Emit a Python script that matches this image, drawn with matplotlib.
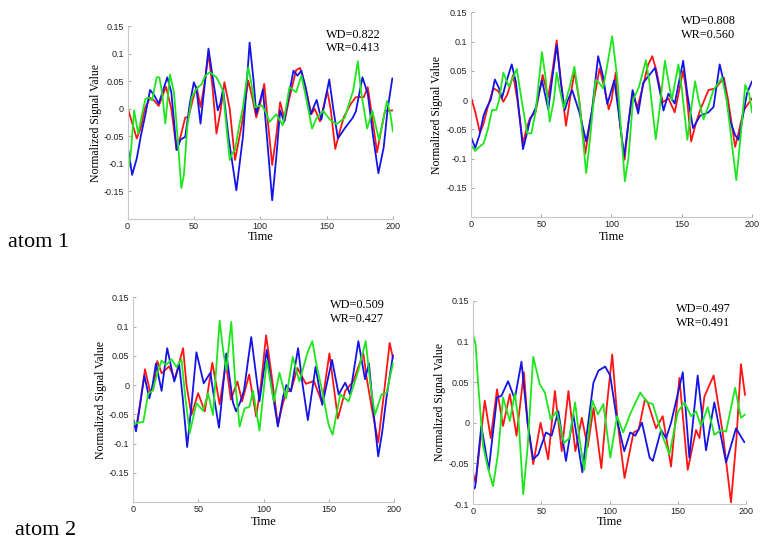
import matplotlib
matplotlib.use('Agg')
import matplotlib.pyplot as plt

plt.rcParams['axes.unicode_minus'] = False

# ---------------- data ----------------
time_ticks = [0, 50, 100, 150, 200]
ytick_vals = [-0.15, -0.1, -0.05, 0, 0.05, 0.1, 0.15]
ytick_labels = ['-0.15', '-0.1', '-0.05', '0', '0.05', '0.1', '0.15']
ytick_vals_br = [-0.1, -0.05, 0, 0.05, 0.1, 0.15]
ytick_labels_br = ['-0.1', '-0.05', '0', '0.05', '0.1', '0.15']
row_labels = ['atom 1', 'atom 2']
wd_values = ['0.822', '0.808', '0.509', '0.497']
wr_values = ['0.413', '0.560', '0.427', '0.491']

# atom 1, left panel
t_a1l_red = [0, 4, 7, 10, 13, 17, 20, 23.5, 29, 33, 37, 40, 43.5, 46, 49, 52, 55, 58, 61, 64, 67, 70, 73, 77, 81, 86,
             91, 94, 97, 100, 103, 106, 109, 112, 115, 118.5, 122, 127, 130, 134, 138.5, 141, 145, 150.5, 153, 156.5,
             160, 163, 168, 172, 178, 181, 184, 188, 191, 194, 200]
v_a1l_red = [0.003, -0.03, -0.054, -0.035, 0.0, 0.02, 0.015, 0.005, 0.04, 0.0, -0.075, -0.05, -0.016, -0.015, 0.015,
             0.04, 0.003, 0.045, 0.1, 0.04, -0.045, -0.005, 0.048, 0.0, -0.093, -0.03, 0.051, 0.02, -0.016, 0.01,
             0.045, -0.03, -0.102, -0.05, 0.012, -0.021, 0.02, 0.07, 0.074, 0.04, -0.01, 0.0, -0.023, 0.032, 0.0,
             -0.073, -0.04, -0.015, 0.008, 0.021, 0.021, 0.039, -0.01, -0.079, -0.04, -0.004, -0.003]
t_a1l_blue = [0, 3.5, 7, 10, 13.5, 17, 20, 23.5, 27, 30, 33, 37, 40, 43.5, 47, 50, 52, 55, 58, 61, 64, 68, 70, 72, 76,
              82, 87, 92, 95, 97, 100, 102, 105, 109, 112, 115, 118, 122, 125, 128, 131, 134, 138, 142.5, 146, 152,
              155, 158.5, 163.5, 169.5, 172, 177, 181, 185, 189, 193, 196, 199.5]
v_a1l_blue = [-0.066, -0.12, -0.09, -0.05, -0.01, 0.034, 0.025, 0.009, 0.035, 0.057, 0.03, -0.075, -0.056, -0.051,
              0.01, 0.048, 0.035, -0.027, 0.04, 0.109, 0.06, -0.003, 0.01, 0.036, -0.05, -0.148, -0.05, 0.12, 0.05,
              -0.009, 0.015, 0.035, -0.05, -0.166, -0.09, -0.003, -0.024, 0.03, 0.069, 0.06, 0.069, 0.04, -0.01,
              0.016, -0.02, 0.053, 0.0, -0.054, -0.036, -0.017, -0.005, 0.057, 0.027, -0.05, -0.117, -0.07, 0.0,
              0.055]
t_a1l_green = [0, 2.5, 5, 8, 11, 13.5, 16, 18.5, 22, 24, 26, 28.5, 32, 35, 38, 40.5, 42.5, 45, 48.5, 52, 56, 58.5, 62,
               67, 72, 74, 77, 79, 81, 83.5, 87, 91, 93, 96, 101, 104, 107, 112, 117, 120, 122, 127, 131, 134.5, 139,
               142.5, 147.5, 152.5, 157.5, 163.5, 170, 173.5, 176, 180.5, 184.5, 189.5, 195.5, 198, 200]
v_a1l_green = [-0.117, -0.08, -0.003, -0.045, -0.01, 0.018, 0.02, 0.015, 0.057, 0.057, 0.03, -0.027, 0.062, 0.03,
               -0.06, -0.144, -0.12, -0.033, 0.021, 0.036, 0.045, 0.06, 0.066, 0.057, 0.033, -0.02, -0.093, -0.08,
               -0.075, -0.039, 0.003, 0.075, 0.05, 0.003, 0.006, -0.005, -0.024, -0.01, -0.03, 0.01, 0.039, 0.03,
               0.06, 0.02, -0.036, -0.017, -0.004, -0.02, -0.028, -0.017, 0.033, 0.086, 0.03, -0.036, -0.004,
               -0.057, 0.014, -0.01, -0.042]

# atom 1, right panel
t_a1r_red = [0, 3, 6.4, 9, 12, 16, 19.5, 23, 26, 30, 33, 37, 40, 42, 46, 51, 55, 58, 61, 64, 67.6, 71, 73.7, 77, 81.3,
             86, 91.5, 95, 98, 100, 103, 106, 109.3, 112, 115.3, 118.3, 122, 126, 129, 132, 136.5, 140.5, 145, 151,
             153, 156.7, 160, 163, 169, 174, 180, 183, 188, 191, 194, 200]
v_a1r_red = [0.005, -0.02, -0.056, -0.04, -0.011, 0.02, 0.015, -0.003, 0.01, 0.043, 0.0, -0.074, -0.045, -0.031,
             -0.02, 0.043, 0.005, 0.05, 0.102, 0.03, -0.044, 0.01, 0.048, 0.0, -0.092, -0.02, 0.054, 0.02, -0.016,
             0.0, 0.047, -0.04, -0.102, -0.04, 0.014, -0.014, 0.02, 0.06, 0.075, 0.05, -0.004, 0.003, -0.021, 0.05,
             0.02, -0.071, -0.04, -0.018, 0.017, 0.02, 0.038, 0.0, -0.08, -0.05, -0.018, 0.003]
t_a1r_blue = [0, 3, 6, 9, 11, 14, 17, 20, 22, 25, 29, 32, 37, 40, 42, 46, 50.5, 55, 58, 61, 64, 66.7, 69, 72, 77, 82,
              86, 90.5, 94, 97, 102, 105, 109, 112, 115, 119, 122.5, 126, 131, 134, 137, 140.5, 145, 151, 154, 158,
              163, 169, 172.6, 177, 180, 184.5, 188, 190.5, 193, 196.4, 200]
v_a1r_blue = [-0.063, -0.082, -0.06, -0.026, -0.014, 0.0, 0.035, 0.02, 0.003, 0.03, 0.061, 0.03, -0.084, -0.055,
              -0.034, -0.014, 0.034, -0.016, 0.04, 0.094, 0.03, -0.017, 0.0, 0.017, -0.02, -0.071, -0.02, 0.075,
              0.04, -0.007, 0.034, -0.02, -0.097, -0.04, 0.017, -0.023, 0.029, 0.04, 0.055, 0.02, -0.018, 0.011,
              -0.006, 0.067, 0.01, -0.048, -0.027, -0.021, -0.012, 0.061, 0.03, -0.036, -0.06, -0.068, -0.035,
              0.011, 0.032]
t_a1r_green = [0, 3, 6, 9, 12, 15, 18, 20, 23, 27, 32.6, 36, 40, 43, 46, 50.5, 53, 56, 59, 61, 63, 66, 70, 73.6, 77,
               82, 85, 88.6, 91, 94, 97, 100.5, 104, 109.5, 112, 115.3, 119.5, 124.5, 127, 131.5, 134, 138, 140,
               142.9, 147.6, 150, 154, 157, 159.5, 162, 165.5, 169, 172.6, 178.6, 182, 188.8, 192, 195.2, 198, 200]
v_a1r_green = [-0.077, -0.087, -0.08, -0.074, -0.05, -0.017, -0.017, 0.0, 0.047, 0.023, 0.053, 0.0, -0.057, -0.057,
               -0.02, 0.082, 0.04, -0.037, 0.0, 0.047, 0.02, -0.014, 0.02, 0.057, 0.0, -0.125, -0.06, 0.034, 0.03,
               0.02, 0.06, 0.109, 0.04, -0.139, -0.1, 0.0, 0.022, 0.068, 0.03, -0.067, -0.02, 0.067, 0.04, 0.0,
               0.061, 0.02, -0.068, -0.01, 0.032, 0.0, -0.033, -0.01, 0.017, 0.038, 0.0, -0.137, -0.06, 0.026, 0.01,
               -0.021]

# atom 2, left panel
t_a2l_red = [0, 2.3, 5.3, 9.2, 13, 15.5, 18.6, 22, 27.7, 32, 38.4, 41, 44.8, 49.9, 55, 60.8, 66.4, 71.2, 75, 80, 83.6,
             89, 94.4, 98, 102, 106, 111, 115, 118, 121, 126, 132.5, 138.6, 145, 150.5, 157, 162.6, 169, 172.7,
             176.5, 179, 183, 187.9, 192, 196.7, 199.2]
v_a2l_red = [-0.062, -0.075, -0.034, 0.027, -0.011, -0.008, 0.041, 0.02, 0.032, 0.01, 0.063, 0.0, -0.051, -0.014,
             -0.045, 0.038, -0.033, 0.038, -0.025, 0.006, -0.028, 0.018, -0.054, 0.0, 0.085, 0.02, -0.068, -0.03,
             -0.011, -0.01, 0.029, 0.002, 0.007, -0.031, 0.054, -0.057, -0.01, 0.007, 0.031, 0.054, 0.013, -0.04,
             -0.098, -0.02, 0.072, 0.046]
t_a2l_blue = [0, 2.3, 5, 8.7, 12.5, 15, 17.6, 21.9, 26.2, 31.6, 35.4, 38, 41.5, 45, 48.6, 54.2, 59.3, 62, 65.9, 71.5,
              76.6, 79, 82, 85, 90.6, 96.9, 102.5, 106, 111, 115, 117.5, 121, 126.5, 130, 134, 139.9, 145, 152.5,
              157.6, 162.6, 166.4, 172.7, 177.8, 180.8, 184, 187.9, 191, 194.2, 199.2]
v_a2l_blue = [-0.056, -0.079, -0.04, 0.016, -0.023, 0.0, 0.037, -0.01, 0.063, 0.006, 0.035, -0.02, -0.106, -0.03,
              0.056, 0.003, 0.021, -0.02, -0.073, 0.054, -0.03, -0.045, -0.03, -0.01, 0.082, -0.028, 0.06, 0.0,
              -0.071, -0.02, 0.0, -0.011, 0.063, 0.0, -0.06, 0.031, -0.034, 0.043, -0.016, 0.004, -0.016, 0.075,
              0.01, 0.037, -0.04, -0.122, -0.08, -0.022, 0.051]
t_a2l_green = [0, 2.8, 7.9, 11.7, 15, 18.6, 21.9, 25.2, 29.5, 33.3, 37.2, 40, 43.5, 48.6, 53.7, 57.5, 61.3, 63.5,
               66.4, 69, 71.5, 75.3, 78.5, 81.7, 85.5, 89.3, 92, 96.9, 102.5, 107.9, 112.2, 117.3, 122.4, 127.5,
               133.8, 137.4, 141, 144.4, 150, 153, 158.8, 165.2, 172.7, 178.3, 182, 185.4, 190.4, 194.2, 199.2]
v_a2l_green = [-0.068, -0.065, -0.063, -0.014, -0.01, 0.02, 0.042, 0.034, 0.044, 0.031, 0.044, -0.02, -0.082, -0.031,
               -0.044, -0.014, -0.051, 0.02, 0.11, 0.06, 0.025, 0.108, 0.0, -0.071, -0.04, -0.037, -0.01, -0.078,
               0.042, -0.028, 0.021, -0.023, 0.048, 0.006, 0.056, 0.075, 0.03, -0.004, -0.069, -0.085, -0.016,
               -0.028, 0.025, 0.075, 0.0, -0.051, -0.016, -0.014, 0.037]

# atom 2, right panel
t_a2r_red = [0, 2, 4.9, 8.6, 13, 17.6, 22, 27, 31.9, 37.3, 40, 44.1, 49.5, 55.1, 60, 65, 69.9, 75, 79.7, 84, 88.3, 94,
             98, 102, 106, 111, 117.6, 121.3, 126, 128, 134.1, 139, 145.1, 151.2, 157.3, 163.4, 165.9, 169.5, 176.3,
             183, 189, 193, 196.3, 199.3]
v_a2r_red = [-0.062, -0.074, -0.029, 0.027, -0.019, 0.041, -0.004, 0.035, -0.016, 0.062, 0.0, -0.051, 0.0, -0.045,
             0.039, -0.035, 0.039, -0.035, 0.006, -0.03, 0.018, -0.056, 0.02, 0.084, 0.0, -0.068, -0.012, -0.009,
             0.029, 0.025, -0.007, 0.008, -0.054, 0.055, -0.058, -0.009, -0.019, 0.032, 0.058, -0.013, -0.098,
             -0.02, 0.072, 0.034]
t_a2r_blue = [0, 1.5, 6.1, 11.5, 17.6, 20.8, 25.7, 30.6, 35.5, 40, 44.1, 47.8, 53.4, 57.6, 62.5, 68.1, 73.5, 80.1,
              83.8, 88.2, 91.9, 96.8, 100.5, 105.4, 110.8, 115.2, 118.9, 123.8, 129.4, 131.7, 137.8, 141.5, 145.1,
              153.7, 158.5, 164.6, 170.7, 176.8, 185.4, 192.7, 198.8]
v_a2r_blue = [-0.082, -0.08, -0.004, -0.058, 0.031, 0.033, 0.051, 0.029, 0.075, 0.0, -0.045, -0.039, -0.012,
              -0.016, 0.014, -0.047, 0.01, -0.061, -0.008, 0.049, 0.064, 0.069, 0.058, 0.004, -0.035, -0.012,
              -0.016, 0.0, -0.043, -0.047, -0.009, -0.019, 0.0, 0.062, -0.043, 0.058, -0.034, 0.025, -0.049,
              -0.007, -0.024]
t_a2r_green = [0, 2, 3.7, 7.4, 11, 14.7, 18.4, 22, 27, 30.6, 33.5, 36.8, 40, 44.1, 49, 52.7, 56.9, 61.3, 66.7, 70.6,
               74.8, 78, 81.5, 87.5, 91.5, 95.5, 100.6, 105.5, 110, 115, 118, 122.6, 127.6, 131.7, 139, 143.9, 150,
               154.9, 159.8, 163.4, 167, 172, 176.8, 181.7, 185.4, 192, 196.3, 199.3]
v_a2r_green = [0.109, 0.095, 0.049, -0.029, -0.056, -0.078, -0.037, 0.031, 0.002, 0.036, 0.0, -0.088, -0.03, 0.081,
               0.047, 0.037, 0.004, 0.014, -0.025, -0.019, 0.025, -0.02, -0.058, 0.027, 0.01, 0.023, -0.043, 0.008,
               -0.012, 0.01, 0.021, 0.037, 0.025, 0.023, -0.017, -0.039, 0.013, 0.025, 0.008, 0.014, -0.004, 0.019,
               -0.015, -0.009, -0.011, 0.043, 0.006, 0.01]

# ---------------- layout ----------------
W, H = 767, 540
fig = plt.figure(figsize=(W / 100, H / 100), dpi=100)

serif = ['Liberation Serif', 'DejaVu Serif']
sans = ['Liberation Sans', 'DejaVu Sans']
RED, BLUE, GREEN = '#ff1414', '#1414e6', '#1ee61e'

panels = [
    # (left, right, top, bottom) px, ylim, yticks, labels, series, ylabel x, xlabel y, text pos
    dict(box=(127.5, 393, 26, 219), ylim=(-0.2, 0.15), yt=ytick_vals, yl=ytick_labels,
         data=[(t_a1l_red, v_a1l_red, RED), (t_a1l_blue, v_a1l_blue, BLUE), (t_a1l_green, v_a1l_green, GREEN)],
         ylx=96, xly=237, txt=(326, 34.5)),
    dict(box=(471, 752, 12.3, 217), ylim=(-0.2, 0.15), yt=ytick_vals, yl=ytick_labels,
         data=[(t_a1r_red, v_a1r_red, RED), (t_a1r_blue, v_a1r_blue, BLUE), (t_a1r_green, v_a1r_green, GREEN)],
         ylx=437, xly=237, txt=(681, 21)),
    dict(box=(133, 394, 297.3, 502), ylim=(-0.2, 0.15), yt=ytick_vals, yl=ytick_labels,
         data=[(t_a2l_red, v_a2l_red, RED), (t_a2l_blue, v_a2l_blue, BLUE), (t_a2l_green, v_a2l_green, GREEN)],
         ylx=101, xly=522, txt=(329.5, 305)),
    dict(box=(473, 746, 300.7, 504), ylim=(-0.1, 0.15), yt=ytick_vals_br, yl=ytick_labels_br,
         data=[(t_a2r_red, v_a2r_red, RED), (t_a2r_blue, v_a2r_blue, BLUE), (t_a2r_green, v_a2r_green, GREEN)],
         ylx=440, xly=522, txt=(676, 309)),
]

for i, p in enumerate(panels):
    l, r, t, b = p['box']
    ax = fig.add_axes([l / W, 1 - b / H, (r - l) / W, (b - t) / H])
    for tt, vv, c in p['data']:
        ax.plot(tt, vv, color=c, lw=1.3, solid_joinstyle='round', solid_capstyle='round')
    ax.set_xlim(0, 200)
    ax.set_ylim(*p['ylim'])
    ax.set_xticks(time_ticks)
    ax.set_xticklabels([str(v) for v in time_ticks], fontfamily=sans, fontsize=6.5, color='#222222')
    ax.set_yticks(p['yt'])
    ax.set_yticklabels(p['yl'], fontfamily=sans, fontsize=6.5, color='#222222')
    for s in ['top', 'right']:
        ax.spines[s].set_visible(False)
    for s in ['left', 'bottom']:
        ax.spines[s].set_color('#c8c8c8')
        ax.spines[s].set_linewidth(0.8)
    ax.tick_params(axis='both', length=2, width=0.6, color='#999999', direction='in', pad=2.5)
    ax.patch.set_alpha(0)

    wpx, hpx = r - l, b - t
    ax.set_ylabel('Normalized Signal Value', fontfamily=serif, fontsize=8.5, va='center', ha='center')
    ax.yaxis.set_label_coords((p['ylx'] - l) / wpx, 0.5)
    ax.set_xlabel('Time', fontfamily=serif, fontsize=8.8, va='center', ha='center')
    ax.xaxis.set_label_coords(0.5, -(p['xly'] - b) / hpx)

    tx, ty = p['txt']
    fig.text(tx / W, 1 - ty / H, 'WD=' + wd_values[i], fontfamily=serif, fontsize=8.8,
             ha='left', va='center')
    fig.text(tx / W, 1 - (ty + 13.5) / H, 'WR=' + wr_values[i], fontfamily=serif, fontsize=8.8,
             ha='left', va='center')

fig.text(8 / W, 1 - 247 / H, row_labels[0], fontfamily=serif, fontsize=16, ha='left', va='baseline')
fig.text(15 / W, 1 - 535 / H, row_labels[1], fontfamily=serif, fontsize=16, ha='left', va='baseline')

fig.savefig('out.png', dpi=100)
